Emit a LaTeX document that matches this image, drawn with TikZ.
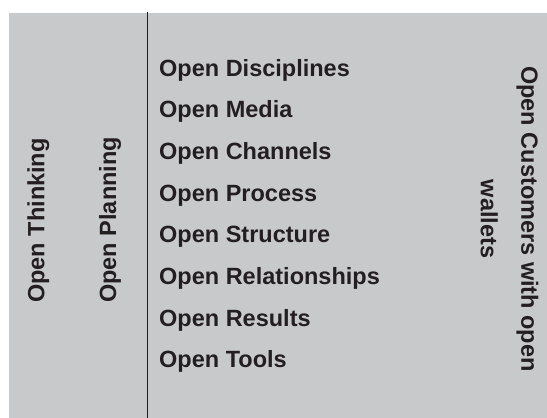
\documentclass[tikz,border=0pt]{standalone}
\usepackage{fontspec}
\setmainfont{Liberation Sans}
\usetikzlibrary{positioning}
\definecolor{panelgray}{RGB}{200,201,203}
\definecolor{inkblack}{RGB}{35,31,32}

\begin{document}
\begin{tikzpicture}[x=1pt,y=-1pt,node distance=18.3pt,text=inkblack,
    font=\bfseries\fontsize{23.5}{40.5}\selectfont]
  \tikzstyle{item}=[inner sep=0pt,text height=18pt,text depth=5pt]
  \tikzstyle{side}=[inner sep=0pt]

  \useasboundingbox (0,0) rectangle (547,418);
  \fill[panelgray] (9,13) rectangle (547,418);
  \coordinate (top) at (147.5,12);
  \coordinate (bottom) at (147.5,418);
  \draw[inkblack, line width=1.6pt] (top) -- (bottom);

  \node[side, rotate=90, anchor=base west] (thinking) at (44.5,303) {Open Thinking};
  \node[side, rotate=90, anchor=base west] (planning) at (116,303) {Open Planning};

  \node[item, anchor=base west] (disciplines) at (159,76) {Open Disciplines};
  \node[item, below=of disciplines.south west, anchor=north west] (media) {Open Media};
  \node[item, below=of media.south west, anchor=north west] (channels) {Open Channels};
  \node[item, below=of channels.south west, anchor=north west] (process) {Open Process};
  \node[item, below=of process.south west, anchor=north west] (structure) {Open Structure};
  \node[item, below=of structure.south west, anchor=north west] (relationships) {Open Relationships};
  \node[item, below=of relationships.south west, anchor=north west] (results) {Open Results};
  \node[item, below=of results.south west, anchor=north west] (tools) {Open Tools};

  \node[side, rotate=-90, anchor=north, align=center] (customers) at (538.5,219)
    {Open Customers with open\\wallets};
\end{tikzpicture}
\end{document}
